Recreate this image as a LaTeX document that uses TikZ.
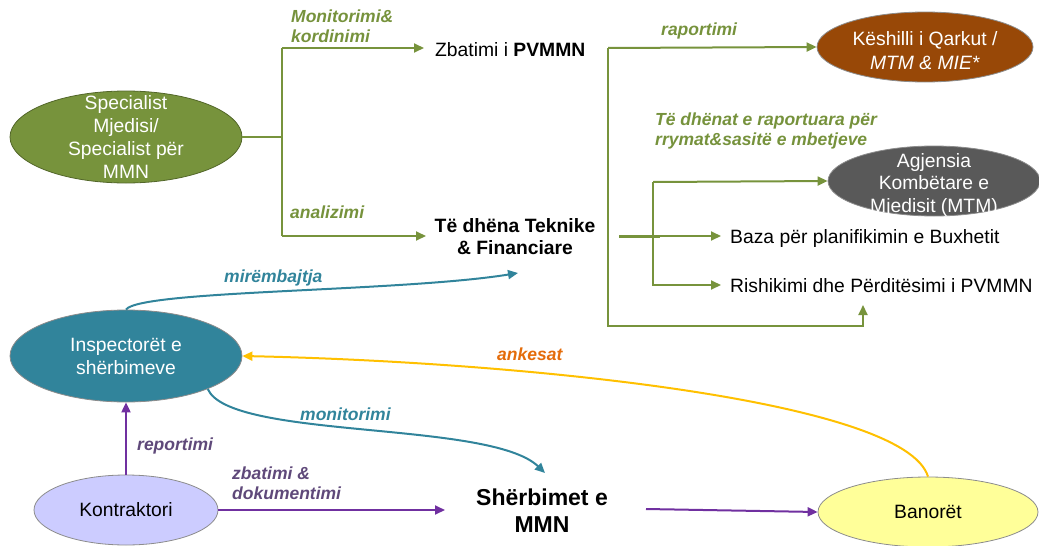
\documentclass[tikz,border=0pt]{standalone}
\usepackage{fontspec}
\setmainfont{Liberation Sans}
\usetikzlibrary{arrows.meta,shapes.geometric}
\definecolor{gline}{HTML}{77933C}
\definecolor{glab}{HTML}{76923C}
\definecolor{brownfill}{HTML}{984807}
\definecolor{grayfill}{HTML}{595959}
\definecolor{tealc}{HTML}{31849B}
\definecolor{lavfill}{HTML}{CCCCFF}
\definecolor{yelfill}{HTML}{FFFF99}
\definecolor{yelline}{HTML}{FFC000}
\definecolor{orlab}{HTML}{E46C0A}
\definecolor{purline}{HTML}{7030A0}
\definecolor{purlab}{HTML}{5F497A}
\begin{document}
\begin{tikzpicture}[x=1pt,y=-1pt,
  ell/.style={ellipse, draw=black!45, line width=0.8pt, inner sep=0pt},
  body/.style={font=\fontsize{19.3}{23}\selectfont, inner sep=0pt, align=center},
  lab/.style={font=\fontsize{17.5}{19.5}\selectfont\bfseries\itshape, inner sep=0pt, align=left, anchor=base west},
  tip/.style={-{Triangle[length=10pt,width=9pt]}},
  gl/.style={draw=gline, line width=2pt},
  ga/.style={gl, tip},
  ta/.style={draw=tealc, line width=2pt, tip},
  pa/.style={draw=purline, line width=2pt, tip},
  ya/.style={draw=yelline, line width=2pt, tip}
]
\useasboundingbox (0,0) rectangle (1039,546);

% ellipses
\node[ell, fill=gline, draw=gline!70!black, minimum width=232pt, minimum height=92pt] (spec) at (126,137) {};
\node[body, text=white] (specT) at (spec.center) {Specialist\\Mjedisi/\\Specialist për\\MMN};
\node[ell, fill=brownfill, minimum width=216pt, minimum height=70pt] (kesh) at (925,47) {};
\node[body, text=white, font=\fontsize{19.3}{24}\selectfont] (keshT) at ([yshift=-4pt]kesh.center) {Këshilli i Qarkut /\\\textit{MTM \& MIE*}};
\node[ell, fill=grayfill, minimum width=212pt, minimum height=70pt] (agj) at (934,181) {};
\node[body, text=white, font=\fontsize{19.3}{22.5}\selectfont] (agjT) at ([yshift=-4pt]agj.center) {Agjensia\\Kombëtare e\\Mjedisit (MTM)};
\node[ell, fill=tealc, minimum width=232pt, minimum height=92pt] (insp) at (126,356) {};
\node[body, text=white] (inspT) at (insp.center) {Inspectorët e\\shërbimeve};
\node[ell, fill=lavfill, minimum width=184pt, minimum height=70pt] (kon) at (126,510) {};
\node[body] (konT) at (kon.center) {Kontraktori};
\node[ell, fill=yelfill, minimum width=220pt, minimum height=70pt] (ban) at (928,512) {};
\node[body] (banT) at (ban.center) {Banorët};

% plain texts
\node[body, anchor=base west] (zb) at (435,56) {Zbatimi i \textbf{PVMMN}};
\node[body, font=\fontsize{19.3}{22}\selectfont\bfseries, anchor=base] (td) at (515,254) {Të dhëna Teknike\\\& Financiare};
\node[body, anchor=base west] (baza) at (730,243) {Baza për planifikimin e Buxhetit};
\node[body, anchor=base west] (rish) at (730,292) {Rishikimi dhe Përditësimi i PVMMN};
\node[body, font=\fontsize{23}{27}\selectfont\bfseries, anchor=base] (sh) at (542,532) {Shërbimet e\\MMN};

% labels
\node[lab, text=glab] (lMon) at (291,42) {Monitorimi\&\\kordinimi};
\node[lab, text=glab] (lAna) at (290,218) {analizimi};
\node[lab, text=glab] (lRap) at (661,35) {raportimi};
\node[lab, text=glab] (lTe) at (655,145) {Të dhënat e raportuara për\\rrymat\&sasitë e mbetjeve};
\node[lab, text=tealc] (lMir) at (224,282) {mirëmbajtja};
\node[lab, text=orlab] (lAnk) at (497,360) {ankesat};
\node[lab, text=tealc] (lMo) at (300,420) {monitorimi};
\node[lab, text=purlab] (lRe) at (137,450) {reportimi};
\node[lab, text=purlab] (lZb) at (232,499) {zbatimi \&\\dokumentimi};

% green connectors, left
\coordinate (jS) at (282,137);
\coordinate (jA) at (282,48);
\coordinate (jB) at (282,236);
\coordinate (zbIn) at (424,48);
\coordinate (tdIn) at (426,236);
\draw[gl] (spec.east) -- (jS);
\draw[gl] (jA) -- (jB);
\draw[ga] (jA) -- (zbIn);
\draw[ga] (jB) -- (tdIn);

% green connectors, right
\coordinate (zbOut) at (608,48);
\coordinate (rC1) at (608,326);
\coordinate (rC2) at (863,326);
\coordinate (rishIn) at (863,305);
\draw[ga] (zbOut) -- (kesh.west);
\draw[ga] (zbOut) -- (rC1) -- (rC2) -- (rishIn);
\coordinate (tdOut) at (619,236);
\coordinate (bazaIn) at (721,236);
\draw[draw=gline, line width=3pt] (tdOut) -- (660,236);
\draw[ga] (tdOut) -- (bazaIn);
\coordinate (vA) at (653,182);
\coordinate (vB) at (653,285);
\coordinate (rishL) at (721,285);
\draw[ga] (vA) -- (agj.west);
\draw[ga] (vA) -- (vB) -- (rishL);

% teal curves
\coordinate (mirT) at (518,273);
\draw[ta] (insp.north) .. controls (140,290) and (400,292) .. (mirT);
\coordinate (monT) at (545,473);
\draw[ta] (insp.-22) .. controls (230,440) and (490,420) .. (monT);

% yellow curve
\draw[ya] (ban.north) .. controls (905,400) and (520,362) .. (insp.east);

% purple
\draw[pa] (kon.north) -- (insp.south);
\coordinate (shIn) at (445,510);
\coordinate (shOut) at (646,509);
\draw[pa] (kon.east) -- (shIn);
\draw[pa] (shOut) -- (ban.west);
\end{tikzpicture}
\end{document}
